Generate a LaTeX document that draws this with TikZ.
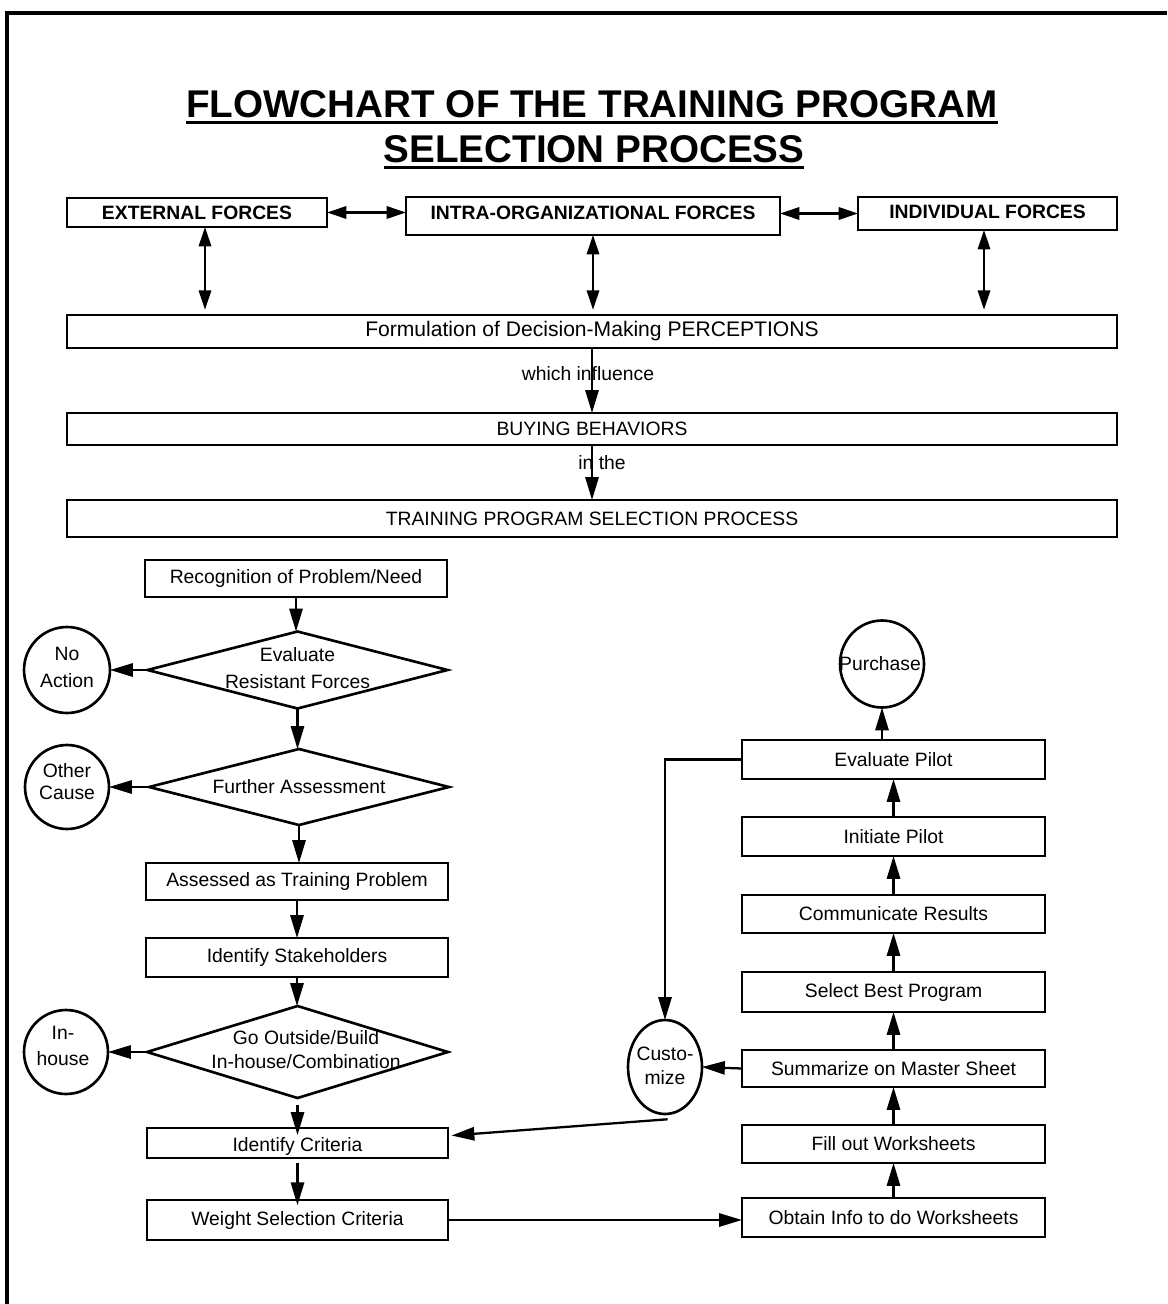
\documentclass[tikz,border=0pt]{standalone}
\usepackage{fontspec}
\setmainfont{Liberation Sans}
\usetikzlibrary{arrows.meta,shapes.geometric,fit,calc}
\tikzset{
  flbox/.style={draw, line width=1.5pt, fit={#1}},
  dia/.style={draw, diamond, line width=1.5pt},
  circ/.style={draw, ellipse, line width=1.5pt},
  arr/.style={line width=1.3pt, -{Triangle[length=13pt,width=7.5pt]}},
  darr/.style={line width=1.3pt, {Triangle[length=11pt,width=7pt]}-{Triangle[length=11pt,width=7pt]}},
  bodyf/.style={font=\fontsize{11}{13}\selectfont},
  headf/.style={font=\fontsize{11}{13}\selectfont\bfseries},
  titlef/.style={font=\fontsize{22}{26}\selectfont\bfseries},
}
\begin{document}
\begin{tikzpicture}[x=0.02cm,y=-0.02cm, every node/.style={inner sep=0pt, outer sep=0pt, bodyf}]
\useasboundingbox (0,0) rectangle (1167,1304);
\draw[line width=2.2pt] (7,1304) -- (7,13) -- (1167,13);

% title
\node[titlef, anchor=base] (t1) at (592,118) {FLOWCHART OF THE TRAINING PROGRAM};
\node[titlef, anchor=base] (t2) at (594,163) {SELECTION PROCESS};
\draw[line width=1.7pt] ([yshift=-2.6pt]t1.base west) -- ([yshift=-2.6pt]t1.base east);
\draw[line width=1.7pt] ([yshift=-2.6pt]t2.base west) -- ([yshift=-2.6pt]t2.base east);

% forces
\node[flbox={(67,198) (327,227)}, label={[headf]center:EXTERNAL FORCES}] (ext) {};
\node[flbox={(406,197) (780,235)}, label={[headf, yshift=2pt]center:INTRA-ORGANIZATIONAL FORCES}] (intra) {};
\node[flbox={(858,197) (1117,230)}, label={[headf, yshift=1pt]center:INDIVIDUAL FORCES}] (ind) {};
\draw[darr] (ext.east) -- (ext.east -| intra.west);
\draw[darr] (ind.west -| intra.east) -- (ind.west);

% bands
\node[flbox={(67,315) (1117,348)}, label={[font=\fontsize{12}{14}\selectfont]center:Formulation of Decision-Making PERCEPTIONS}] (form) {};
\node[flbox={(67,413) (1117,445)}, label={center:BUYING BEHAVIORS}] (buy) {};
\node[flbox={(67,500) (1117,537)}, label={center:TRAINING PROGRAM SELECTION PROCESS}] (tps) {};

\coordinate (xa) at (205,0);
\coordinate (xb) at (593,0);
\coordinate (xc) at (984,0);
\draw[darr, shorten >=3pt] (ext.south -| xa) -- (form.north -| xa);
\draw[darr, shorten >=3pt] (intra.south -| xb) -- (form.north -| xb);
\draw[darr, shorten >=3pt] (ind.south -| xc) -- (form.north -| xc);

\node (wi) at (588,374) {which influence};
\node (inthe) at (602,463) {in the};
\draw[arr] (form.south) -- (buy.north);
\draw[arr] (buy.south) -- (tps.north);

% left column
\node[flbox={(145,560) (447,597)}, label={center:Recognition of Problem/Need}] (rec) {};
\node[dia, minimum width=6.0cm, minimum height=1.54cm] (d1) at (297.5,670) {};
\node[align=center, font=\fontsize{11}{15.3}\selectfont] at (297.5,668) {Evaluate\\Resistant Forces};
\node[circ, minimum width=1.72cm, minimum height=1.72cm] (noact) at (67,670) {};
\node[align=center, font=\fontsize{11}{15.3}\selectfont] at (67,667) {No\\Action};

\node[dia, minimum width=6.0cm, minimum height=1.52cm] (d2) at (299,787) {};
\node at (299,787) {Further Assessment};
\node[circ, minimum width=1.68cm, minimum height=1.68cm] (oth) at (67,787) {};
\node[align=center, font=\fontsize{11}{12.5}\selectfont] at (67,782) {Other\\Cause};

\node[flbox={(146,863) (448,900)}, label={center:Assessed as Training Problem}] (asp) {};
\node[flbox={(146,938) (448,977)}, label={center:Identify Stakeholders}] (stk) {};

\node[dia, minimum width=6.02cm, minimum height=1.84cm] (d3) at (297.5,1052) {};
\node[align=center, font=\fontsize{11}{13.6}\selectfont] at (306,1050) {Go Outside/Build\\In-house/Combination};
\node[circ, minimum width=1.68cm, minimum height=1.68cm] (inh) at (66,1052) {};
\node[align=center, font=\fontsize{11}{14.7}\selectfont] at (63,1046) {In-\\house};

\node[flbox={(147,1128) (448,1158)}, label={[yshift=-2pt]center:Identify Criteria}] (crit) {};
\node[flbox={(147,1200) (448,1240)}, label={center:Weight Selection Criteria}] (wsc) {};

\draw[arr] (rec.south) -- (rec.south |- d1.north);
\draw[arr] (d1.west) -- (noact.east);
\draw[arr] (d1.south) -- (d1.south |- d2.north);
\draw[arr] (d2.west) -- (oth.east);
\draw[arr] (d2.south) -- (d2.south |- asp.north);
\draw[arr] (asp.south) -- (asp.south |- stk.north);
\draw[arr] (stk.south) -- (stk.south |- d3.north);
\draw[arr] (d3.west) -- (inh.east);
\draw[arr] ([yshift=-4pt]d3.south) -- ([yshift=-4pt]d3.south |- crit.north);
\draw[arr] ([yshift=-3pt]crit.south) -- ([yshift=-3pt]crit.south |- wsc.north);

% right column
\node[flbox={(742,740) (1045,779)}, label={center:Evaluate Pilot}] (evp) {};
\node[flbox={(742,817) (1045,856)}, label={center:Initiate Pilot}] (ini) {};
\node[flbox={(742,895) (1045,933)}, label={center:Communicate Results}] (com) {};
\node[flbox={(742,972) (1045,1012)}, label={center:Select Best Program}] (sel) {};
\node[flbox={(742,1050) (1045,1087)}, label={center:Summarize on Master Sheet}] (sum) {};
\node[flbox={(742,1125) (1045,1163)}, label={center:Fill out Worksheets}] (fil) {};
\node[flbox={(742,1198) (1045,1237)}, label={center:Obtain Info to do Worksheets}] (obt) {};

\node[circ, minimum width=1.68cm, minimum height=1.74cm] (pur) at (882,664) {};
\node at (880,664) {Purchase};
\node[circ, minimum width=1.48cm, minimum height=1.88cm] (cust) at (665,1067) {};
\node[align=center, font=\fontsize{11}{14}\selectfont] at (665,1066) {Custo-\\mize};

\draw[arr] (obt.north) -- (fil.south);
\draw[arr] (fil.north) -- (sum.south);
\draw[arr] (sum.north) -- (sel.south);
\draw[arr] (sel.north) -- (com.south);
\draw[arr] (com.north) -- (ini.south);
\draw[arr] (ini.north) -- (evp.south);
\draw[arr] (evp.north -| pur) -- (pur.south);
\draw[arr] (sum.west) -- (cust.east);
\draw[arr] (evp.west) -| (cust.north);
\draw[arr] ([xshift=1.5pt,yshift=-3pt]cust.south) -- ([xshift=2pt]$(crit.north east)!0.25!(crit.south east)$);
\draw[arr] (wsc.east) -- (wsc.east -| obt.west);
\end{tikzpicture}
\end{document}
